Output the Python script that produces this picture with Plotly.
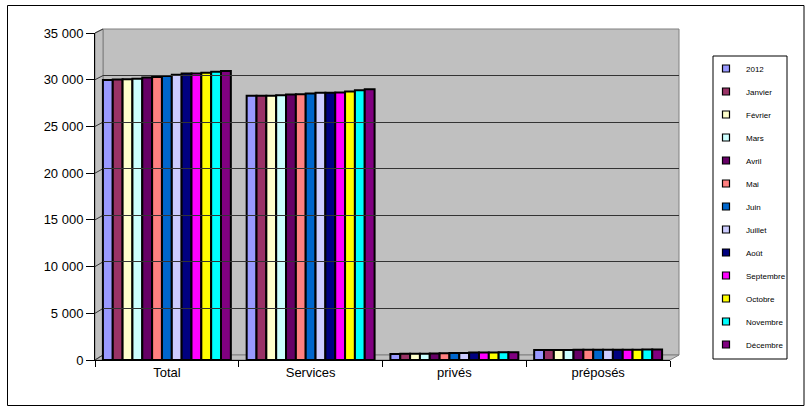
import plotly.graph_objects as go

# ---------------- data ----------------
categories = ["Total", "Services", "privés", "préposés"]
months = ["2012", "Janvier", "Février", "Mars", "Avril", "Mai", "Juin",
          "Juillet", "Août", "Septembre", "Octobre", "Novembre", "Décembre"]
total = [29970, 30030, 30060, 30090, 30240, 30300, 30410, 30520, 30670, 30670, 30740, 30850, 30930]
services = [28290, 28290, 28290, 28340, 28410, 28450, 28520, 28600, 28600, 28630, 28740, 28880, 28970]
prives = [640, 660, 680, 670, 700, 720, 740, 760, 790, 800, 810, 820, 840]
preposes = [1060, 1070, 1080, 1080, 1090, 1090, 1100, 1100, 1110, 1110, 1110, 1120, 1120]
colors = ["#9999FF", "#993366", "#FFFFCC", "#CCFFFF", "#660066", "#FF8080", "#0066CC",
          "#CCCCFF", "#000080", "#FF00FF", "#FFFF00", "#00FFFF", "#800080"]
y_ticks = [0, 5000, 10000, 15000, 20000, 25000, 30000, 35000]

# ---------------- geometry (pixels) ----------------
W, H = 805, 407
PL, PR, PT, PB = 95, 679, 29, 360          # paper area
FRONT_X1, BACK_X0 = 670, 103
FRONT_TOP, BACK_BOT = 33, 355


def px(x):
    return (x - PL) / (PR - PL)


def py(y):
    return (PB - y) / (PB - PT)


series_by_month = list(zip(*[total, services, prives, preposes]))

fig = go.Figure()
for i, m in enumerate(months):
    fig.add_trace(go.Bar(
        x=categories, y=list(series_by_month[i]), name=m,
        marker=dict(color=colors[i], line=dict(color="#000000", width=2)),
        showlegend=False, xaxis="x", yaxis="y",
    ))
# legend-only entries
for i, m in enumerate(months):
    fig.add_trace(go.Scatter(
        x=[None], y=[None], mode="markers", name=m, legendgroup=m,
        marker=dict(symbol="square", size=7, color=colors[i],
                    line=dict(color="#000000", width=1.2)),
        showlegend=True, xaxis="x", yaxis="y",
    ))
# empty trace to create the back-wall subplot (gridlines)
fig.add_trace(go.Scatter(x=[], y=[], xaxis="x2", yaxis="y2", showlegend=False,
                         hoverinfo="skip"))

ymax = 35000
shapes = []
# back wall
shapes.append(dict(type="rect", xref="paper", yref="paper", layer="below",
                   x0=px(BACK_X0), x1=px(PR), y0=py(BACK_BOT), y1=py(PT),
                   fillcolor="#C0C0C0", line=dict(color="#808080", width=1)))
# side wall
shapes.append(dict(type="path", xref="paper", yref="paper", layer="below",
                   path=f"M{px(PL)},{py(PB)} L{px(PL)},{py(FRONT_TOP)} L{px(BACK_X0)},{py(PT)} "
                        f"L{px(BACK_X0)},{py(BACK_BOT)} Z",
                   fillcolor="#C0C0C0", line=dict(color="#808080", width=1)))
# floor
shapes.append(dict(type="path", xref="paper", yref="paper", layer="below",
                   path=f"M{px(PL)},{py(PB)} L{px(BACK_X0)},{py(BACK_BOT)} L{px(PR)},{py(BACK_BOT)} "
                        f"L{px(FRONT_X1)},{py(PB)} Z",
                   fillcolor="#C0C0C0", line=dict(color="#808080", width=1)))
# side-wall gridline diagonals
for v in y_ticks:
    yf = PB - v / ymax * (PB - FRONT_TOP)
    yb = BACK_BOT - v / ymax * (BACK_BOT - PT)
    shapes.append(dict(type="line", xref="paper", yref="paper", layer="below",
                       x0=px(PL), y0=py(yf), x1=px(BACK_X0), y1=py(yb),
                       line=dict(color="#333333", width=1)))
# legend box
shapes.append(dict(type="rect", xref="paper", yref="paper",
                   x0=px(713), x1=px(787), y0=py(359), y1=py(56),
                   line=dict(color="#000000", width=1), fillcolor="rgba(0,0,0,0)"))
# outer frame
shapes.append(dict(type="rect", xref="paper", yref="paper",
                   x0=px(7.5), x1=px(804), y0=py(405.5), y1=py(5.5),
                   line=dict(color="#000000", width=1), fillcolor="rgba(0,0,0,0)"))

font = "Liberation Sans, Arial, sans-serif"
fig.update_layout(
    width=W, height=H,
    margin=dict(l=PL, r=W - PR, t=PT, b=H - PB, pad=0),
    paper_bgcolor="#FFFFFF", plot_bgcolor="rgba(0,0,0,0)",
    separators=", ",
    barmode="group", bargap=0.11, bargroupgap=0,
    font=dict(family=font, size=13, color="#000000"),
    xaxis=dict(domain=[0, px(FRONT_X1)], anchor="y", type="category",
               showline=True, linecolor="#000000", linewidth=1,
               ticks="outside", tickson="boundaries", ticklen=6, tickcolor="#000000",
               showgrid=False, tickfont=dict(size=13)),
    yaxis=dict(domain=[0, py(FRONT_TOP)], anchor="x", range=[0, ymax],
               tickvals=y_ticks, tickformat=",d",
               showline=True, linecolor="#000000", linewidth=1,
               ticks="outside", ticklen=8, tickcolor="#000000",
               showgrid=False, zeroline=False, tickfont=dict(size=13)),
    xaxis2=dict(domain=[px(BACK_X0), 1], anchor="y2", range=[0, 1],
                visible=False, showgrid=False),
    yaxis2=dict(domain=[py(BACK_BOT), 1], anchor="x2", range=[0, ymax],
                tickvals=y_ticks, showticklabels=False, ticks="",
                showgrid=True, gridcolor="#333333", gridwidth=1,
                zeroline=False, showline=False),
    legend=dict(x=px(706), xanchor="left", y=py(54), yanchor="top",
                font=dict(size=8, family=font), bgcolor="rgba(0,0,0,0)",
                borderwidth=0, itemwidth=30, tracegroupgap=4,
                itemclick=False),
    shapes=shapes,
)

fig.write_html("out.html", config={"displayModeBar": False},
               post_script="document.body.style.margin='0';document.body.style.overflow='hidden';")
